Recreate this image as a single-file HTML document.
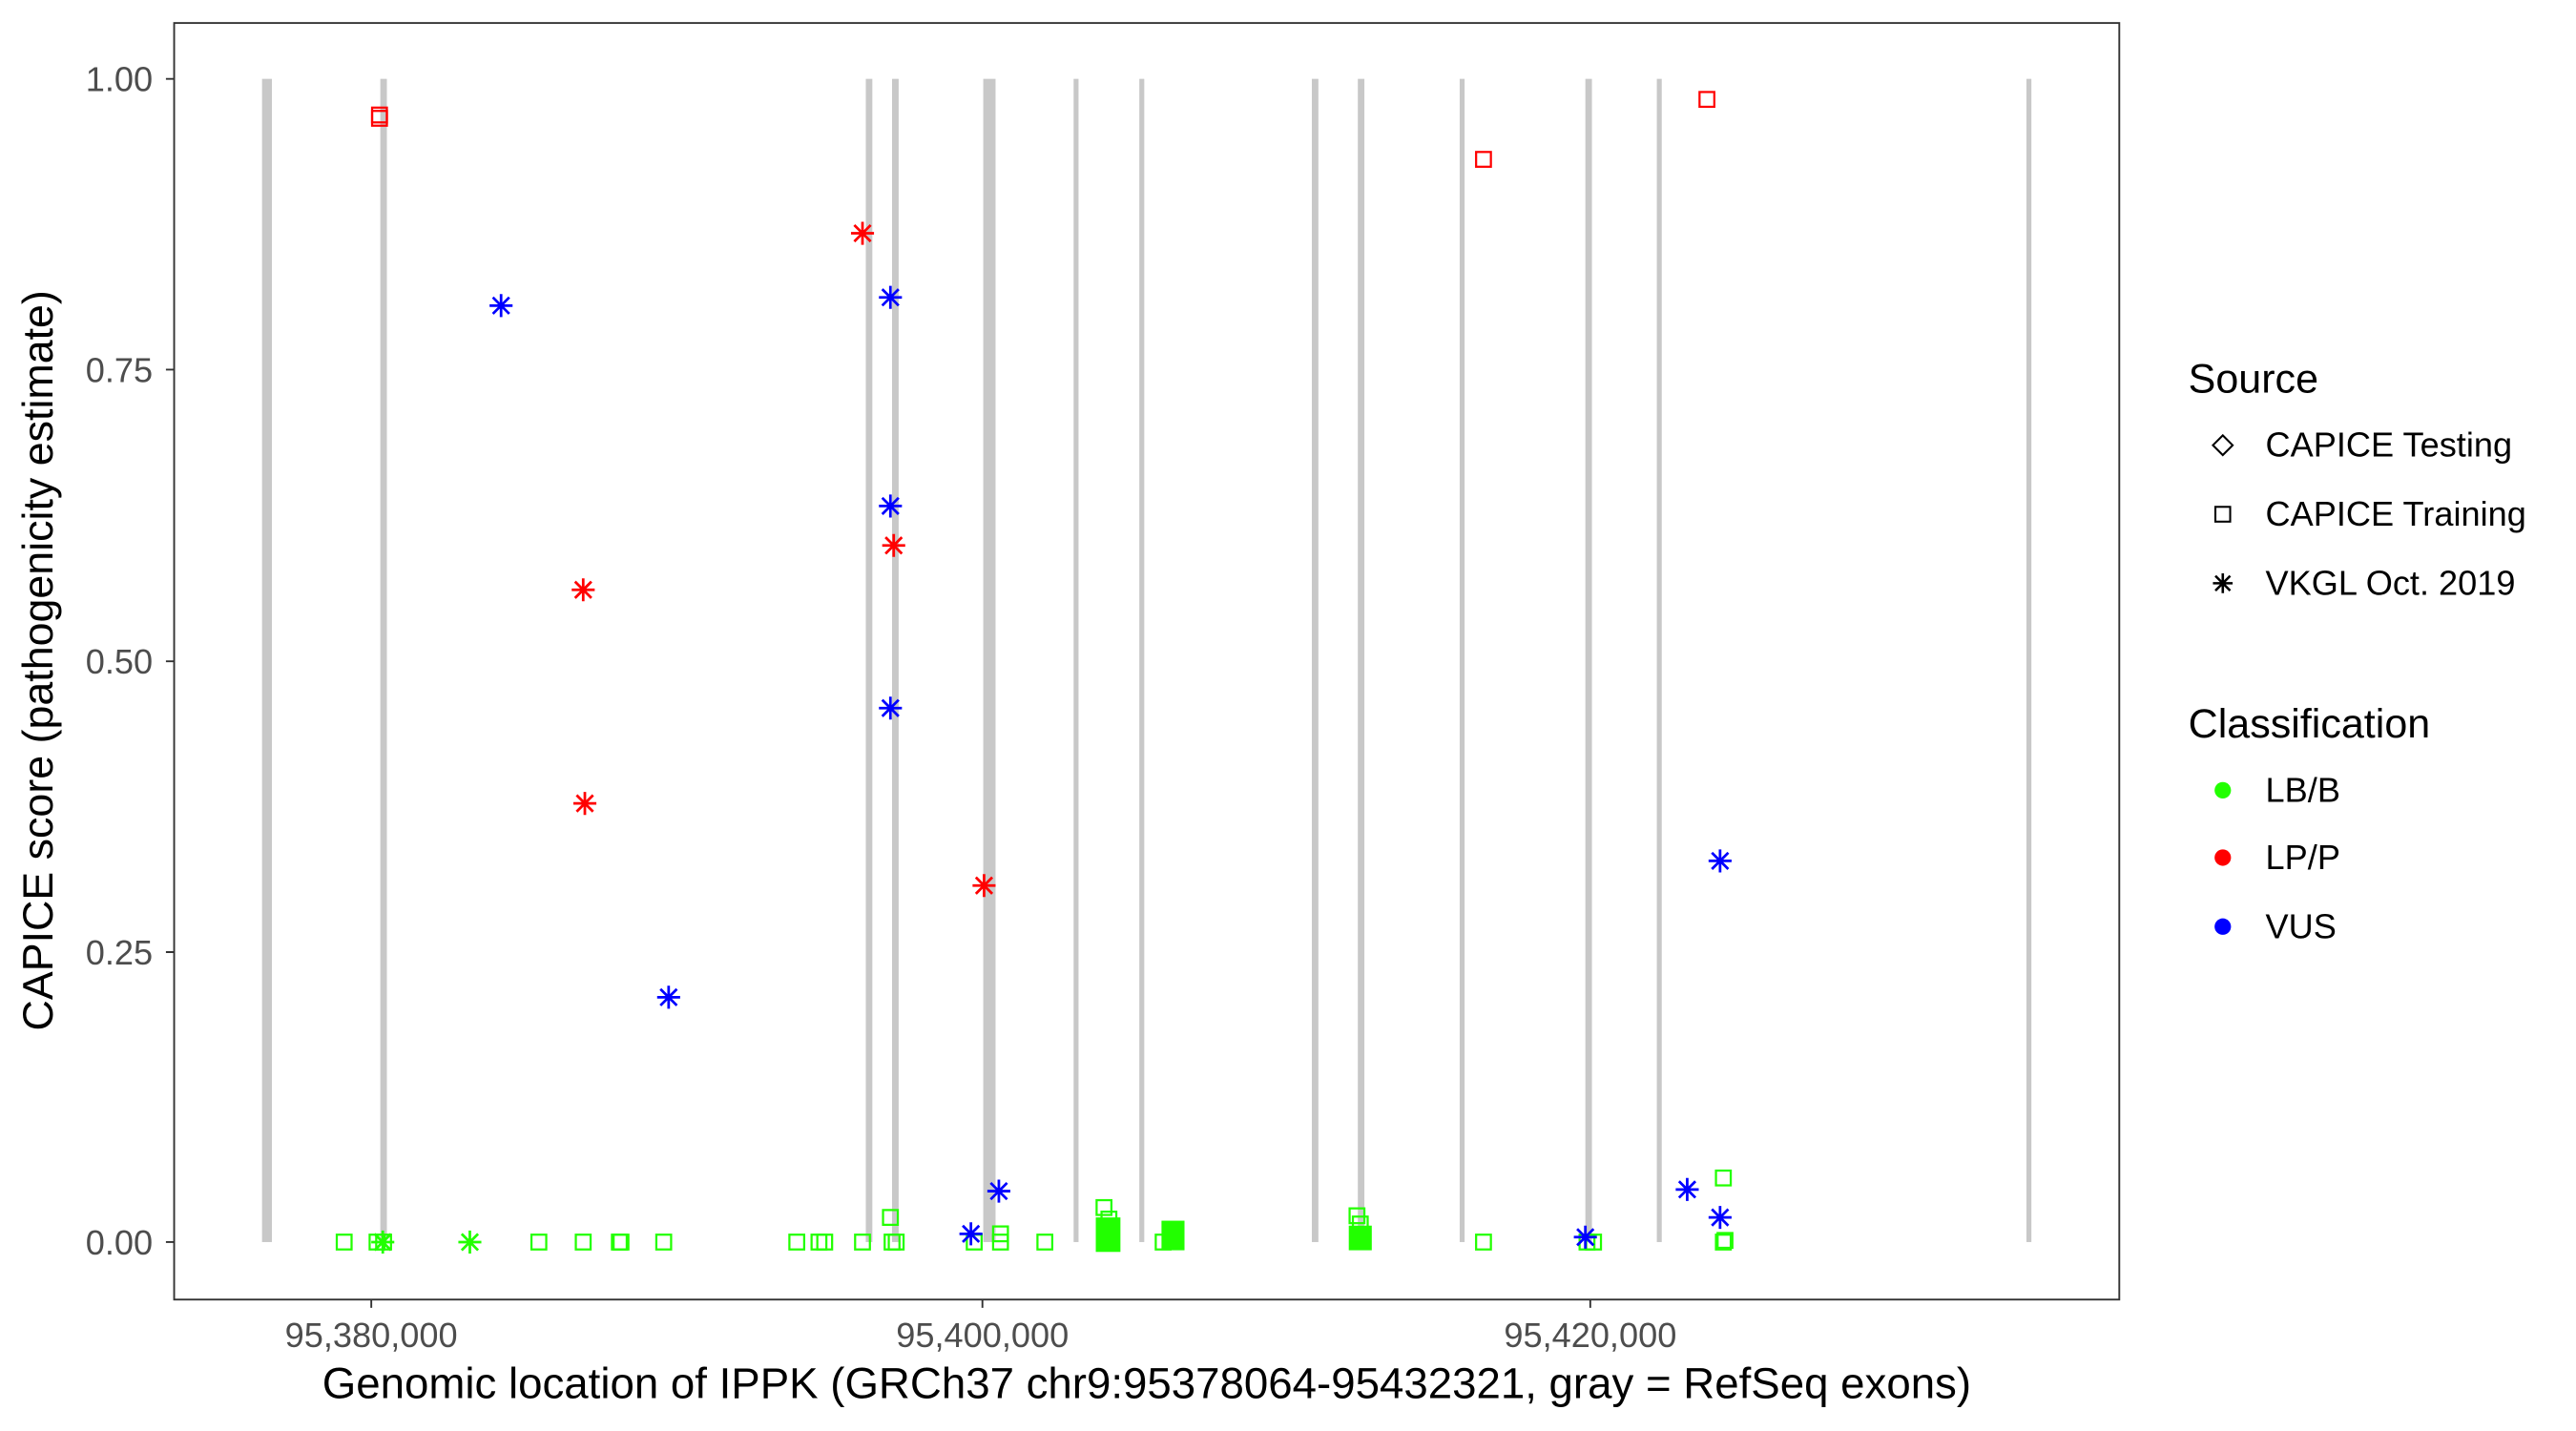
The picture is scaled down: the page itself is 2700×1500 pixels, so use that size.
<!DOCTYPE html>
<html><head><meta charset="utf-8"><style>html,body{margin:0;padding:0;background:#fff}svg{display:block}</style></head>
<body>
<svg width="2700" height="1500" viewBox="0 0 1568 871" preserveAspectRatio="none" xmlns="http://www.w3.org/2000/svg" font-family="Liberation Sans, Arial, sans-serif">
<defs>
<g id="st"><path d="M-7,0H7M0,-7V7M-5,-5L5,5M-5,5L5,-5" stroke-width="1.6" fill="none"/></g>
</defs>
<rect width="1568" height="871" fill="#fff"/>
<g fill="#c8c8c8">
<rect x="159.5" y="48" width="6" height="708"/>
<rect x="231.5" y="48" width="4" height="708"/>
<rect x="527" y="48" width="4" height="708"/>
<rect x="543" y="48" width="4" height="708"/>
<rect x="598.5" y="48" width="7.5" height="708"/>
<rect x="653.5" y="48" width="3" height="708"/>
<rect x="693.5" y="48" width="3" height="708"/>
<rect x="798.5" y="48" width="4" height="708"/>
<rect x="826.5" y="48" width="4" height="708"/>
<rect x="888.5" y="48" width="3" height="708"/>
<rect x="965" y="48" width="4" height="708"/>
<rect x="1008.5" y="48" width="3" height="708"/>
<rect x="1233.5" y="48" width="3" height="708"/>
</g>
<g fill="none" stroke="#22ff00" stroke-width="1.3">
<rect x="205" y="751.5" width="9" height="9"/>
<rect x="225" y="751.5" width="9" height="9"/>
<rect x="229" y="751.5" width="9" height="9"/>
<rect x="323.5" y="751.5" width="9" height="9"/>
<rect x="350.5" y="751.5" width="9" height="9"/>
<rect x="372.5" y="751.5" width="9" height="9"/>
<rect x="373.5" y="751.5" width="9" height="9"/>
<rect x="399.5" y="751.5" width="9" height="9"/>
<rect x="480.5" y="751.5" width="9" height="9"/>
<rect x="494" y="751.5" width="9" height="9"/>
<rect x="497.5" y="751.5" width="9" height="9"/>
<rect x="520.5" y="751.5" width="9" height="9"/>
<rect x="538.5" y="751.5" width="9" height="9"/>
<rect x="541" y="751.5" width="9" height="9"/>
<rect x="537.5" y="736.5" width="9" height="9"/>
<rect x="588.5" y="751.5" width="9" height="9"/>
<rect x="604.5" y="751.5" width="9" height="9"/>
<rect x="604.5" y="746.5" width="9" height="9"/>
<rect x="631.5" y="751.5" width="9" height="9"/>
<rect x="667.5" y="730.5" width="9" height="9"/>
<rect x="670.5" y="737.5" width="9" height="9"/>
<rect x="703.5" y="751.5" width="9" height="9"/>
<rect x="821.5" y="735.5" width="9" height="9"/>
<rect x="823.5" y="740.5" width="9" height="9"/>
<rect x="898.5" y="751.5" width="9" height="9"/>
<rect x="961.5" y="751.5" width="9" height="9"/>
<rect x="965.5" y="751.5" width="9" height="9"/>
<rect x="1044.5" y="712.5" width="9" height="9"/>
<rect x="1044.5" y="751.5" width="9" height="9"/>
<rect x="1045.5" y="750.5" width="9" height="9"/>
</g>
<g fill="#22ff00">
<rect x="667" y="741" width="15" height="21"/>
<rect x="707" y="743" width="14" height="18"/>
<rect x="821" y="746" width="14" height="15"/>
</g>
<g stroke="#22ff00"><use href="#st" x="286" y="756"/><use href="#st" x="233" y="756"/></g>
<g fill="none" stroke="#ff0000" stroke-width="1.3">
<rect x="226.5" y="65.5" width="9" height="9"/>
<rect x="226.5" y="67.5" width="9" height="9"/>
<rect x="898.5" y="92.5" width="9" height="9"/>
<rect x="1034.5" y="56" width="9" height="9"/>
</g>
<g stroke="#ff0000">
<use href="#st" x="525" y="142"/><use href="#st" x="355" y="359"/><use href="#st" x="356" y="489"/>
<use href="#st" x="544" y="332"/><use href="#st" x="599" y="539"/>
</g>
<g stroke="#0000ff">
<use href="#st" x="305" y="186"/><use href="#st" x="542" y="181"/><use href="#st" x="542" y="308"/>
<use href="#st" x="542" y="431"/><use href="#st" x="407" y="607"/><use href="#st" x="608" y="725"/>
<use href="#st" x="591" y="751"/><use href="#st" x="965" y="753"/><use href="#st" x="1027" y="724"/>
<use href="#st" x="1047" y="741"/><use href="#st" x="1047" y="524"/>
</g>
<rect x="106" y="14" width="1184" height="777" fill="none" stroke="#333" stroke-width="1.1"/>
<g stroke="#333" stroke-width="1.1">
<path d="M101,48H106M101,225H106M101,402.5H106M101,579.5H106M101,756H106"/>
<path d="M226,791V796M598,791V796M968,791V796"/>
</g>
<g fill="#4d4d4d" font-size="21" text-anchor="end">
<text x="93" y="55.5">1.00</text><text x="93" y="232.5">0.75</text><text x="93" y="410">0.50</text>
<text x="93" y="587">0.25</text><text x="93" y="763.5">0.00</text>
</g>
<g fill="#4d4d4d" font-size="21" text-anchor="middle">
<text x="226" y="820">95,380,000</text><text x="598" y="820">95,400,000</text><text x="968" y="820">95,420,000</text>
</g>
<text x="698" y="851" font-size="26.5" text-anchor="middle" fill="#000">Genomic location of IPPK (GRCh37 chr9:95378064-95432321, gray = RefSeq exons)</text>
<text transform="translate(32,402) rotate(-90)" font-size="26" text-anchor="middle" fill="#000">CAPICE score (pathogenicity estimate)</text>
<text x="1332" y="239" font-size="25">Source</text>
<path d="M1353,265L1359,271L1353,277L1347,271Z" fill="none" stroke="#000" stroke-width="1.2"/>
<text x="1379" y="278" font-size="21">CAPICE Testing</text>
<rect x="1348.5" y="308.5" width="9" height="9" fill="none" stroke="#000" stroke-width="1.2"/>
<text x="1379" y="320" font-size="21">CAPICE Training</text>
<path d="M1347,355H1359M1353,349V361M1348.5,350.5L1357.5,359.5M1348.5,359.5L1357.5,350.5" stroke="#000" stroke-width="1.5"/>
<text x="1379" y="362" font-size="21">VKGL Oct. 2019</text>
<text x="1332" y="449" font-size="25">Classification</text>
<circle cx="1353" cy="481" r="5" fill="#22ff00"/><text x="1379" y="488" font-size="21">LB/B</text>
<circle cx="1353" cy="522" r="5" fill="#ff0000"/><text x="1379" y="529" font-size="21">LP/P</text>
<circle cx="1353" cy="564" r="5" fill="#0000ff"/><text x="1379" y="571" font-size="21">VUS</text>
</svg>
</body></html>
